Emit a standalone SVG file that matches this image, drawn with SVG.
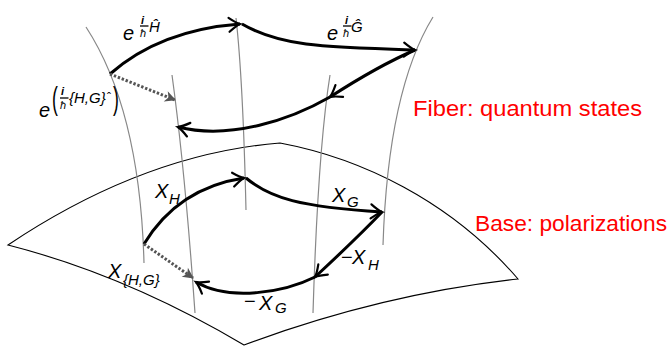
<svg xmlns="http://www.w3.org/2000/svg" width="671" height="346" viewBox="0 0 671 346">
<style>
.base{fill:none;stroke:#000;stroke-width:1.1}
.fib{fill:none;stroke:#888;stroke-width:1.2}
.arr{fill:none;stroke:#000;stroke-width:3;marker-end:url(#to)}
.dot{fill:none;stroke:#555;stroke-width:3;stroke-dasharray:2.4 1.8;marker-end:url(#stealth)}
.m{font-family:"Liberation Sans","DejaVu Sans",sans-serif;font-style:italic;fill:#000}
.u{font-family:"Liberation Sans","DejaVu Sans",sans-serif;fill:#000}
.big{font-size:20px}
.sm{font-size:15px}
.fr{font-size:11px}
.red{font-family:"Liberation Sans","DejaVu Sans",sans-serif;font-size:22px;fill:#ff0000}
.bar{stroke:#000;stroke-width:1.3}
</style>
<defs>
<marker id="to" markerUnits="userSpaceOnUse" markerWidth="30" markerHeight="30" viewBox="-15 -15 30 30" refX="0" refY="0" orient="auto">
<path d="M-11,-7 Q-4,-1.5 0,0 Q-4,1.5 -11,7" fill="none" stroke="#000" stroke-width="2.2" stroke-linecap="round"/>
</marker>
<marker id="stealth" markerUnits="userSpaceOnUse" markerWidth="30" markerHeight="30" viewBox="-15 -15 30 30" refX="0" refY="0" orient="auto">
<path d="M1,0 L-10,-5.5 L-7,0 L-10,5.5 Z" fill="#555"/>
</marker>
</defs>

<g id="base-surface">
<path class="base" d="M8,245 Q144,154 280,143 C360,158 450,200 518,279 Q381,294 244,345 Q126,275 8,245 Z"/>
</g>

<g id="fibers">
<path id="fiber1" class="fib" d="M86,27 Q140,110 144,263"/>
<path id="fiber2" class="fib" d="M172,75 Q185,170 195,313"/>
<path id="fiber3" class="fib" d="M236,18 Q243,80 246,210"/>
<path id="fiber4" class="fib" d="M330,75 Q318,150 313,313"/>
<path id="fiber5" class="fib" d="M433,17 Q388,90 383,245"/>
</g>

<g id="connectors">
<path class="arr" d="M110,74 Q160,30 240,24"/>
<path class="arr" d="M242,24 C280,46 320,47 415,50"/>
<path class="arr" d="M415,50 Q378,66 330,97"/>
<path class="arr" d="M330,97 C290,120 230,140 178,127"/>
<path class="dot" d="M110,74 L175,100"/>
<path class="arr" d="M144,244 Q178,188 244,178"/>
<path class="arr" d="M246,178 C270,198 300,207 382,212"/>
<path class="arr" d="M382,212 Q355,240 315,277"/>
<path class="arr" d="M315,277 C285,292 230,302 196,282"/>
<path class="dot" d="M144,244 L193,278"/>
</g>

<g id="label-expH">
<text class="m big" x="123" y="40">e</text>
<text class="m fr" x="141" y="24" font-weight="bold">i</text>
<line class="bar" x1="140" y1="26" x2="148.5" y2="26"/>
<text class="m fr" x="140" y="37">ħ</text>
<text class="m sm" x="149" y="32">Ĥ</text>
</g>
<g id="label-expG">
<text class="m big" x="327" y="40">e</text>
<text class="m fr" x="345" y="24" font-weight="bold">i</text>
<line class="bar" x1="343" y1="26" x2="351.5" y2="26"/>
<text class="m fr" x="343" y="37">ħ</text>
<text class="m sm" x="351" y="32">Ĝ</text>
</g>
<g id="label-expHG">
<text class="m big" x="39" y="117">e</text>
<text class="u" font-size="22" transform="translate(52,109) scale(0.8,1.4)">(</text>
<text class="m fr" x="61" y="95" font-weight="bold">i</text>
<line class="bar" x1="60" y1="98" x2="68.5" y2="98"/>
<text class="m fr" x="60" y="109">ħ</text>
<text class="m sm" x="69" y="103">{H,G}</text>
<text class="u" font-size="12" x="107" y="102">ˆ</text>
<text class="u" font-size="22" transform="translate(113,109) scale(0.8,1.4)">)</text>
</g>

<g id="label-XH">
<text class="m big" x="155" y="198">X</text>
<text class="m sm" x="169" y="204">H</text>
</g>
<g id="label-XG">
<text class="m big" x="332" y="202">X</text>
<text class="m sm" x="347" y="207">G</text>
</g>
<g id="label-mXH">
<text class="u big" x="341" y="264">−</text>
<text class="m big" x="352" y="264">X</text>
<text class="m sm" x="368" y="270">H</text>
</g>
<g id="label-mXG">
<text class="u big" x="244" y="308">−</text>
<text class="m big" x="259" y="310">X</text>
<text class="m sm" x="275" y="313">G</text>
</g>
<g id="label-XHG">
<text class="m big" x="108" y="278">X</text>
<text class="m sm" x="123" y="285">{H,G}</text>
</g>

<g id="label-fiber">
<text class="red" x="413" y="116" textLength="229" lengthAdjust="spacingAndGlyphs">Fiber:  quantum states</text>
</g>
<g id="label-base">
<text class="red" x="475" y="231" textLength="192" lengthAdjust="spacingAndGlyphs">Base:  polarizations</text>
</g>
</svg>
